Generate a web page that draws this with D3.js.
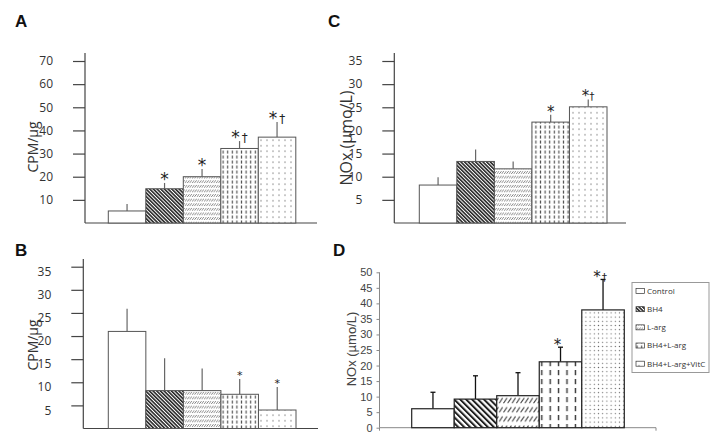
<!DOCTYPE html>
<html><head><meta charset="utf-8">
<script src="https://cdn.jsdelivr.net/npm/d3@7"></script>
<style>body{margin:0;background:#fff}svg{display:block}.sig{font-variant-emoji:text}</style>
</head><body>
<script>
// ---------- data ----------
const groups = ["Control","BH4","L-arg","BH4+L-arg","BH4+L-arg+VitC"];
const aMeans = [5.2, 14.8, 20.0, 32.2, 37.1];
const aSD    = [3.0, 2.5, 3.3, 3.2, 6.5];
const aSig   = ["", "*", "*", "*\u2020", "*\u2020"];
const aTicks = [10,20,30,40,50,60,70];

const bMeans = [21.0, 8.2, 8.2, 7.4, 4.0];
const bSD    = [4.9, 7.0, 4.8, 3.3, 5.0];
const bSig   = ["", "", "", "*", "*"];
const bTicks = [5,10,15,20,25,30,35];

const cMeans = [8.2, 13.3, 11.7, 21.8, 25.1];
const cSD    = [1.7, 2.6, 1.6, 1.6, 1.6];
const cSig   = ["", "", "", "*", "*\u2020"];
const cTicks = [5,10,15,20,25,30,35];

const dMeans = [6.1, 9.2, 10.3, 21.2, 37.9];
const dSD    = [5.3, 7.5, 7.4, 4.7, 9.8];
const dSig   = ["", "", "", "*", "*\u2020"];
const dTicks = [0,5,10,15,20,25,30,35,40,45,50];

const W = 722, H = 444;
const svg = d3.select("body").append("svg").attr("width", W).attr("height", H);
const defs = svg.append("defs");

// ---------- patterns ----------
function pat(id, w, h, rot, draw) {
  const p = defs.append("pattern").attr("id", id).attr("patternUnits", "userSpaceOnUse")
    .attr("width", w).attr("height", h);
  if (rot) p.attr("patternTransform", "rotate(" + rot + ")");
  p.append("rect").attr("width", w).attr("height", h).attr("fill", "#fff");
  draw(p);
}
pat("s0", 4, 4, 0, p => {});
pat("s1", 2.6, 4, -45, p => p.append("rect").attr("x", 0).attr("y", 0).attr("width", 1.6).attr("height", 4).attr("fill", "#262626"));
pat("s2", 2.4, 4.6, 0, p => p.append("path").attr("d", "M0.1,3.7L2.3,0.9").attr("stroke", "#666").attr("stroke-width", 0.8));
pat("s3", 4.6, 5, 0, p => p.append("line").attr("x1", 2.3).attr("x2", 2.3).attr("y1", 0.5).attr("y2", 3.6).attr("stroke", "#555").attr("stroke-width", 1.2));
pat("s4", 6, 5.5, 0, p => p.append("circle").attr("cx", 3).attr("cy", 2.7).attr("r", 0.7).attr("fill", "#666"));
pat("l0", 4, 4, 0, p => {});
pat("l1", 4.2, 4, -45, p => p.append("rect").attr("x", 0).attr("y", 0).attr("width", 2).attr("height", 4).attr("fill", "#222"));
pat("l2", 4.3, 9.2, 0, p => p.append("path").attr("d", "M0.4,7.6L3.9,2.4").attr("stroke", "#333").attr("stroke-width", 1));
pat("l3", 8.4, 9, 0, p => p.append("line").attr("x1", 4.2).attr("x2", 4.2).attr("y1", 1).attr("y2", 6.2).attr("stroke", "#333").attr("stroke-width", 1.4));
pat("l4", 4.2, 4.2, 0, p => p.append("circle").attr("cx", 2.1).attr("cy", 2.1).attr("r", 0.65).attr("fill", "#666"));

// ---------- panel drawer ----------
function panel(cfg) {
  const g = svg.append("g");
  const y = d3.scaleLinear().domain(cfg.domain).range([cfg.base, cfg.yTopVal]);
  const x = d3.scaleBand().domain(groups).range(cfg.barRange).paddingInner(0).paddingOuter(0);

  const ax = g.append("g").attr("transform", "translate(" + cfg.axisX + ",0)")
    .call(d3.axisLeft(y).tickValues(cfg.ticks).tickSizeInner(cfg.tickLen).tickSizeOuter(0).tickPadding(cfg.tickPad));
  ax.select(".domain").remove();
  ax.selectAll(".tick line").attr("stroke", cfg.axisColor).attr("stroke-width", cfg.axisW);
  ax.selectAll(".tick text").attr("font-family", cfg.font).attr("font-size", cfg.fontSize)
    .attr("fill", cfg.textColor).attr("dy", cfg.labelDy);
  g.append("line").attr("x1", cfg.axisX).attr("x2", cfg.axisX).attr("y1", cfg.base).attr("y2", cfg.axisTop)
    .attr("stroke", cfg.axisColor).attr("stroke-width", cfg.axisW);
  g.append("line").attr("x1", cfg.axisX).attr("x2", cfg.xEnd).attr("y1", cfg.base).attr("y2", cfg.base)
    .attr("stroke", cfg.axisColor).attr("stroke-width", cfg.axisW);
  if (cfg.xEndTicks) {
    [cfg.axisX, cfg.xEnd].forEach(xx => g.append("line").attr("x1", xx).attr("x2", xx)
      .attr("y1", cfg.base).attr("y2", cfg.base + 3).attr("stroke", cfg.axisColor).attr("stroke-width", cfg.axisW));
  }

  const eb = g.append("g");
  groups.forEach((k, i) => {
    const cx = x(k) + x.bandwidth() / 2;
    eb.append("line").attr("x1", cx).attr("x2", cx).attr("y1", y(cfg.means[i])).attr("y2", y(cfg.means[i] + cfg.sd[i]))
      .attr("stroke", cfg.errColor).attr("stroke-width", cfg.errW);
    if (cfg.cap) {
      eb.append("line").attr("x1", cx - cfg.cap).attr("x2", cx + cfg.cap)
        .attr("y1", y(cfg.means[i] + cfg.sd[i])).attr("y2", y(cfg.means[i] + cfg.sd[i]))
        .attr("stroke", cfg.errColor).attr("stroke-width", cfg.errW);
    }
  });

  g.append("g").selectAll("rect").data(groups).join("rect")
    .attr("x", d => x(d)).attr("width", x.bandwidth())
    .attr("y", (d, i) => y(cfg.means[i])).attr("height", (d, i) => y(0) - y(cfg.means[i]))
    .attr("fill", (d, i) => "url(#" + cfg.patPrefix + i + ")")
    .attr("stroke", cfg.barStroke).attr("stroke-width", cfg.barStrokeW);

  groups.forEach((k, i) => {
    const s = cfg.sig[i];
    if (!s) return;
    const cx = x(k) + x.bandwidth() / 2 + cfg.sigDx;
    const ty = y(cfg.means[i] + cfg.sd[i]) - cfg.sigGap;
    const t = g.append("text").attr("class", "sig").attr("x", cx).attr("y", ty).attr("text-anchor", "middle")
      .attr("font-family", "'DejaVu Sans', sans-serif").attr("fill", "#222");
    t.append("tspan").attr("font-size", cfg.sigSize).text("*");
    if (s.length > 1) t.append("tspan").attr("font-size", cfg.sigSize * 0.7)
      .attr("dx", cfg.daggerDx).attr("dy", -1).text("\u2020");
  });

  g.append("text").attr("transform", "translate(" + cfg.titleX + "," + cfg.titleY + ") rotate(-90)")
    .attr("text-anchor", "middle").attr("font-family", cfg.titleFont).attr("font-size", cfg.titleSize)
    .attr("fill", cfg.textColor).text(cfg.title);
  g.append("text").attr("x", cfg.letterX).attr("y", cfg.letterY).attr("font-family", "'Liberation Sans', Arial, sans-serif")
    .attr("font-weight", "bold").attr("font-size", 17).attr("fill", "#111").text(cfg.letter);
  return {x, y};
}

const common = {
  font: "'Open Sans', sans-serif", fontSize: 12, textColor: "#333", axisColor: "#444", axisW: 1.2,
  tickLen: 12, tickPad: 20, labelDy: "0.32em", errColor: "#666", errW: 1.2, cap: 0,
  barStroke: "#555", barStrokeW: 1, patPrefix: "s",
  sigSize: 17, sigGap: 0, sigDx: 0, daggerDx: 2,
  titleFont: "'Open Sans', sans-serif", titleSize: 14
};

panel(Object.assign({}, common, {
  letter: "A", letterX: 15, letterY: 27,
  domain: [0, 70], base: 223, yTopVal: 61, axisX: 85, axisTop: 53, xEnd: 317,
  barRange: [108.3, 295.8], ticks: aTicks, means: aMeans, sd: aSD, sig: aSig,
  sigGap: -2, title: "CPM/\u00b5g", titleX: 38, titleY: 147
}));

panel(Object.assign({}, common, {
  letter: "C", letterX: 328, letterY: 27,
  domain: [0, 35], base: 223, yTopVal: 61, axisX: 394.3, axisTop: 53, xEnd: 626,
  barRange: [419.3, 607], ticks: cTicks, means: cMeans, sd: cSD, sig: cSig,
  sigGap: -2, sigSize: 15, daggerDx: 0, title: "NOx (\u00b5mo/L)", titleX: 352, titleY: 138, titleSize: 16
}));

panel(Object.assign({}, common, {
  letter: "B", letterX: 15, letterY: 256,
  domain: [0, 35], base: 428.5, yTopVal: 266.7, axisX: 83.3, axisTop: 259, xEnd: 318,
  barRange: [108.3, 296], ticks: bTicks, means: bMeans, sd: bSD, sig: bSig, labelDy: "0.72em",
  sigGap: 0, sigSize: 11, title: "CPM/\u00b5g", titleX: 38, titleY: 345
}));

panel(Object.assign({}, common, {
  letter: "D", letterX: 333, letterY: 256,
  font: "'Liberation Sans', Arial, sans-serif", fontSize: 11, textColor: "#444",
  axisColor: "#888", axisW: 1, tickLen: 3, tickPad: 4, xEndTicks: true,
  domain: [0, 50], base: 427.7, yTopVal: 272.3, axisX: 379.5, axisTop: 272.3, xEnd: 656,
  barRange: [411.7, 624.3], ticks: dTicks, means: dMeans, sd: dSD, sig: dSig,
  errColor: "#111", errW: 1.3, cap: 2.5, barStroke: "#222", barStrokeW: 1.2, patPrefix: "l",
  sigGap: -3, sigSize: 15, sigDx: -3, daggerDx: 1,
  titleFont: "'Liberation Sans', Arial, sans-serif", title: "NOx (\u00b5mo/L)", titleX: 356, titleY: 349, titleSize: 13
}));

// ---------- legend (panel D) ----------
const lg = svg.append("g");
lg.append("rect").attr("x", 632).attr("y", 282.5).attr("width", 77).attr("height", 90)
  .attr("fill", "#fff").attr("stroke", "#999").attr("stroke-width", 1);
const ly = d3.scalePoint().domain(groups).range([291, 363.7]);
groups.forEach((k, i) => {
  lg.append("rect").attr("x", 636).attr("y", ly(k) - 2.5).attr("width", 8.5).attr("height", 5)
    .attr("fill", "url(#s" + i + ")").attr("stroke", "#333").attr("stroke-width", 0.7);
  lg.append("text").attr("x", 647).attr("y", ly(k)).attr("dy", "0.35em")
    .attr("font-family", "'Open Sans', sans-serif").attr("font-size", 8).attr("fill", "#333").text(k);
});
</script>
</body></html>
